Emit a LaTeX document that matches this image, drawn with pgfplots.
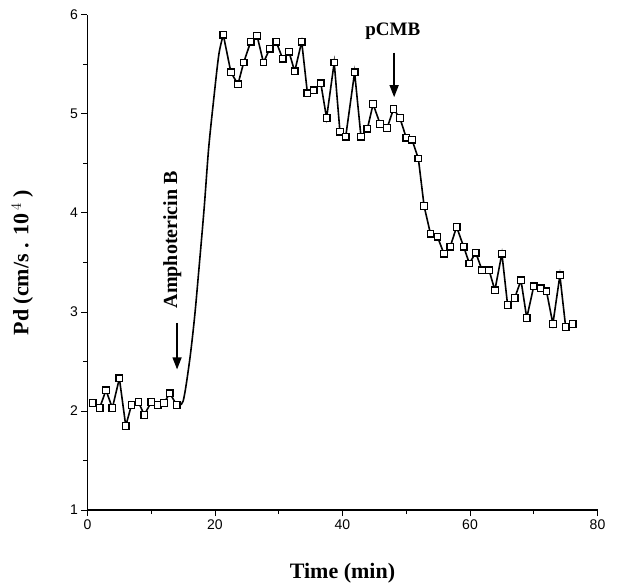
\documentclass[border=0pt]{standalone}
\usepackage{pgfplots}
\pgfplotsset{compat=1.18}
\usepackage{fontspec}
\setmainfont{Liberation Serif}
\newfontfamily\tickfont{Liberation Sans}
\usetikzlibrary{arrows.meta}
\begin{document}
\begin{tikzpicture}
\useasboundingbox (-87.5pt,-76pt) rectangle (530.5pt,510pt);
\begin{axis}[
  at={(0pt,0pt)}, anchor=south west,
  scale only axis, width=510pt, height=495pt,
  xmin=0, xmax=80, ymin=1, ymax=6,
  axis lines*=left,
  axis line style={line width=1.3pt},
  xtick={0,20,40,60,80}, minor xtick={10,30,50,70},
  ytick={1,2,3,4,5,6}, minor ytick={1.5,2.5,3.5,4.5,5.5},
  tick align=outside, major tick length=6pt, minor tick length=4pt,
  every tick/.style={black, line width=1pt},
  /pgf/number format/assume math mode=true,
  ticklabel style={font=\tickfont\fontsize{14}{14}\selectfont},
  xlabel={Time (min)},
  ylabel={Pd (cm/s . 10\,$^{4}$ )},
  label style={font=\bfseries\fontsize{22}{22}\selectfont},
  xlabel style={at={(rel axis cs:0.5,0)}, anchor=center, yshift=-63pt},
  ylabel style={at={(axis description cs:-0.128,0.5)}, anchor=center},
  clip=false,
]
% connecting line (rise drawn without markers)
\addplot[black, line width=1.6pt, mark=none] coordinates {
(0.8,2.08)(1.9,2.03)(2.9,2.21)(3.9,2.03)(5.0,2.33)(6.0,1.85)(6.9,2.06)(8.0,2.09)(8.9,1.96)(10.0,2.09)(11.0,2.06)(12.0,2.08)(12.9,2.18)(14.0,2.06)};
\addplot[black, line width=1.6pt, mark=none, smooth] coordinates {
(14.0,2.06)(15.0,2.10)(16.0,2.50)(16.8,2.95)(17.5,3.45)(18.3,4.05)(19.0,4.65)(19.8,5.15)(20.6,5.60)(21.3,5.80)};
\addplot[black, line width=1.6pt, mark=none] coordinates {
(21.3,5.80)(22.5,5.42)(23.6,5.30)(24.5,5.52)(25.6,5.73)(26.6,5.79)(27.6,5.52)(28.6,5.66)(29.6,5.73)(30.6,5.56)(31.6,5.63)(32.5,5.43)(33.6,5.73)(34.5,5.21)(35.5,5.24)(36.6,5.31)(37.5,4.96)(38.7,5.52)(39.6,4.82)(40.5,4.77)(41.9,5.42)(42.9,4.77)(43.9,4.85)(44.8,5.10)(45.9,4.90)(47.0,4.86)(48.0,5.05)(49.0,4.96)(50.0,4.76)(50.9,4.74)(51.9,4.55)(52.8,4.07)(53.8,3.79)(54.9,3.76)(55.9,3.59)(56.9,3.66)(57.9,3.86)(59.0,3.66)(59.9,3.49)(60.9,3.60)(61.9,3.42)(63.0,3.42)(63.9,3.22)(65.0,3.59)(65.9,3.07)(67.0,3.14)(68.0,3.32)(68.9,2.94)(70.0,3.26)(71.1,3.24)(72.0,3.21)(73.0,2.88)(74.1,3.37)(75.0,2.85)(76.1,2.88)};
% markers
\addplot[only marks, mark=square*, mark size=3.3pt, mark options={fill=white, draw=black, line width=1.3pt}] coordinates {
(0.8,2.08)(1.9,2.03)(2.9,2.21)(3.9,2.03)(5.0,2.33)(6.0,1.85)(6.9,2.06)(8.0,2.09)(8.9,1.96)(10.0,2.09)(11.0,2.06)(12.0,2.08)(12.9,2.18)(14.0,2.06)
(21.3,5.80)(22.5,5.42)(23.6,5.30)(24.5,5.52)(25.6,5.73)(26.6,5.79)(27.6,5.52)(28.6,5.66)(29.6,5.73)(30.6,5.56)(31.6,5.63)(32.5,5.43)(33.6,5.73)(34.5,5.21)(35.5,5.24)(36.6,5.31)(37.5,4.96)(38.7,5.52)(39.6,4.82)(40.5,4.77)(41.9,5.42)(42.9,4.77)(43.9,4.85)(44.8,5.10)(45.9,4.90)(47.0,4.86)(48.0,5.05)(49.0,4.96)(50.0,4.76)(50.9,4.74)(51.9,4.55)(52.8,4.07)(53.8,3.79)(54.9,3.76)(55.9,3.59)(56.9,3.66)(57.9,3.86)(59.0,3.66)(59.9,3.49)(60.9,3.60)(61.9,3.42)(63.0,3.42)(63.9,3.22)(65.0,3.59)(65.9,3.07)(67.0,3.14)(68.0,3.32)(68.9,2.94)(70.0,3.26)(71.1,3.24)(72.0,3.21)(73.0,2.88)(74.1,3.37)(75.0,2.85)(76.1,2.88)};
% annotations
\draw[line width=1.3pt, -{Triangle[length=12pt,width=9pt]}] (axis cs:14.05,2.89) -- (axis cs:14.05,2.42);
\node[rotate=90, font=\bfseries\fontsize{20}{20}\selectfont] at (axis cs:13.3,3.73) {Amphotericin B};
\draw[line width=1.3pt, -{Triangle[length=12pt,width=9pt]}] (axis cs:48.1,5.62) -- (axis cs:48.1,5.17);
\node[font=\bfseries\fontsize{19}{19}\selectfont] at (axis cs:47.9,5.84) {pCMB};
\end{axis}
\end{tikzpicture}
\end{document}
